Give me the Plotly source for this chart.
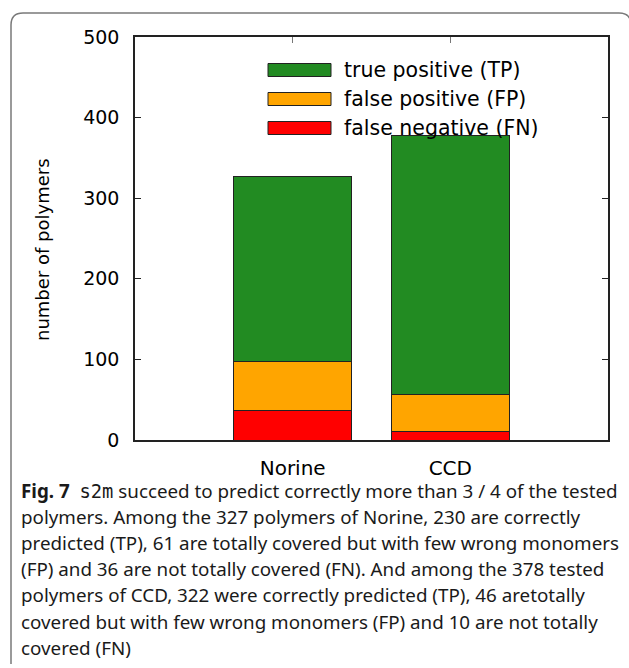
import plotly.graph_objects as go

W, H = 629, 668

categories = ["Norine", "CCD"]
fn_values = [36, 10]
fp_values = [61, 46]
tp_values = [230, 322]
series_names = ["false negative (FN)", "false positive (FP)", "true positive (TP)"]
series_colors = ["#ff0000", "#ffa500", "#228b22"]
y_ticks = [0, 100, 200, 300, 400, 500]

caption_lines = [
    "<b>Fig. 7</b>  <span style=\"font-family:'DejaVu Sans Mono'\">s2m</span> succeed to predict correctly more than 3 / 4 of the tested",
    "polymers. Among the 327 polymers of Norine, 230 are correctly",
    "predicted (TP), 61 are totally covered but with few wrong monomers",
    "(FP) and 36 are not totally covered (FN). And among the 378 tested",
    "polymers of CCD, 322 were correctly predicted (TP), 46 aretotally",
    "covered but with few wrong monomers (FP) and 10 are not totally",
    "covered (FN)",
]

def px(x):
    return x / W

def py(y):
    return 1 - y / H

fig = go.Figure()
for name, vals, col in zip(series_names, [fn_values, fp_values, tp_values], series_colors):
    fig.add_trace(go.Bar(
        x=categories, y=vals, name=name, width=0.75,
        marker=dict(color=col, line=dict(color="#222", width=1)),
        showlegend=False, hoverinfo="skip",
    ))

font_main = "DejaVu Sans"
fig.update_layout(
    width=W, height=H,
    margin=dict(l=0, r=0, t=0, b=0, pad=0, autoexpand=False),
    paper_bgcolor="white", plot_bgcolor="white",
    barmode="stack",
    font=dict(family=font_main, size=18, color="black"),
    xaxis=dict(
        domain=[px(135), px(608)], range=[-1, 2], automargin=False,
        showline=True, linecolor="#222", linewidth=1.5, mirror="ticks",
        ticks="inside", ticklen=6, tickcolor="#777",
        showgrid=False, zeroline=False, layer="below traces",
        tickfont=dict(family=font_main, size=20), ticklabelstandoff=9,
    ),
    yaxis=dict(
        domain=[py(440), py(37)], range=[0, 500], automargin=False,
        tickvals=y_ticks,
        showline=True, linecolor="#222", linewidth=1.5, mirror="ticks",
        ticks="inside", ticklen=6, tickcolor="#222",
        showgrid=False, zeroline=False, layer="below traces",
        tickfont=dict(family=font_main, size=19), ticklabelstandoff=10,
    ),
)

# y-axis title
fig.add_annotation(
    text="number of polymers", textangle=-90, xref="paper", yref="paper",
    x=px(42), y=py(250), showarrow=False, xanchor="center", yanchor="middle",
    font=dict(family=font_main, size=18, color="black"),
)

# custom legend (TP, FP, FN top to bottom)
legend_rows = [70, 99, 128]
for row_y, name, col in zip(legend_rows, series_names[::-1], series_colors[::-1]):
    fig.add_shape(type="rect", xref="paper", yref="paper",
                  x0=px(268), x1=px(331), y0=py(row_y - 6.5), y1=py(row_y + 6.5),
                  fillcolor=col, line=dict(color="#222", width=1))
    fig.add_annotation(text=name, xref="paper", yref="paper",
                       x=px(342), y=py(row_y), showarrow=False,
                       xanchor="left", yanchor="middle",
                       font=dict(family=font_main, size=20.5, color="black"))

# caption
cap_y0, cap_dy = 491, 26.1
for i, line in enumerate(caption_lines):
    fig.add_annotation(text=line, xref="paper", yref="paper",
                       x=px(19), y=py(cap_y0 + i * cap_dy), showarrow=False,
                       xanchor="left", yanchor="middle", align="left",
                       font=dict(family="Noto Sans", size=18.8, color="#1a1a1a"))

# figure frame
fig.add_shape(type="path", xref="paper", yref="paper",
              path=(f"M {px(11)},{py(664)} L {px(11)},{py(25)} "
                    f"Q {px(11)},{py(13)} {px(23)},{py(13)} "
                    f"L {px(619)},{py(13)} Q {px(631)},{py(13)} {px(631)},{py(25)} "
                    f"L {px(631)},{py(668)}"),
              line=dict(color="#7a7a7a", width=1.5))

fig.write_html("out.html",
               config={"displayModeBar": False},
               post_script="document.body.style.margin='0';document.body.style.overflow='hidden';")
